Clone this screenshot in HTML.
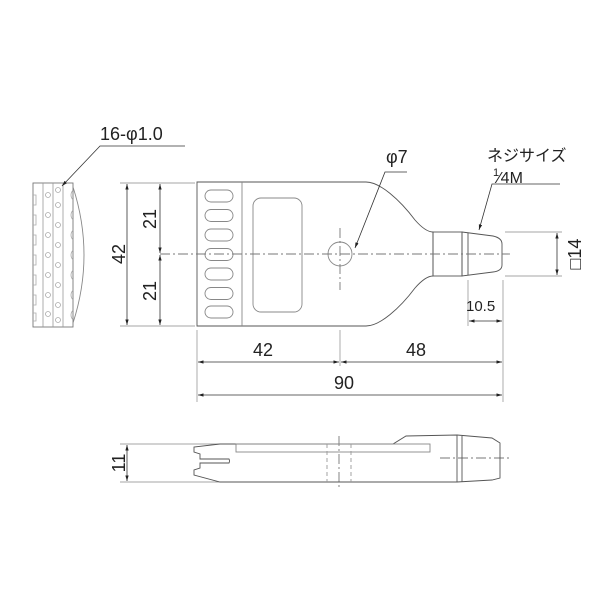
<!DOCTYPE html>
<html><head><meta charset="utf-8"><style>
html,body{margin:0;padding:0;background:#fff;}
svg{display:block;}
text{font-family:"Liberation Sans","Noto Sans CJK JP",sans-serif;fill:#222;}
</style></head><body>
<svg width="607" height="608" viewBox="0 0 607 608" xmlns="http://www.w3.org/2000/svg">
<defs>
<marker id="a" viewBox="0 0 10 10" refX="10" refY="5" markerWidth="7" markerHeight="7" orient="auto-start-reverse"><path d="M0,2 L10,5 L0,8 z" fill="#222"/></marker>
</defs>
<g fill="none" stroke="#555" stroke-width="0.9">
<!-- side view left -->
<rect x="33" y="183" width="40" height="144" stroke="#777"/>
<g stroke="#999" stroke-width="0.8">
<line x1="43" y1="183" x2="43" y2="327"/>
<line x1="53" y1="183" x2="53" y2="327"/>
<line x1="63" y1="183" x2="63" y2="327"/>
</g>
<path d="M73,187 Q95,255 73,323" stroke="#888"/>
<g stroke="#aaa" stroke-width="0.8">
<path d="M33,195 h3 v10 h-3 M33,215 h3 v10 h-3 M33,235 h3 v10 h-3 M33,255 h3 v10 h-3 M33,275 h3 v10 h-3 M33,295 h3 v10 h-3 M33,313 h3 v8 h-3"/>
<path d="M73,190 q-4,5 0,10 M73,210 q-4,5 0,10 M73,230 q-4,5 0,10 M73,250 q-4,5 0,10 M73,270 q-4,5 0,10 M73,290 q-4,5 0,10 M73,310 q-4,5 0,10"/>
<circle cx="48" cy="195" r="2.5"/><circle cx="48" cy="215" r="2.5"/><circle cx="48" cy="235" r="2.5"/><circle cx="48" cy="255" r="2.5"/><circle cx="48" cy="275" r="2.5"/><circle cx="48" cy="295" r="2.5"/><circle cx="48" cy="314" r="2.5"/>
<circle cx="58" cy="190" r="2.5"/><circle cx="58" cy="205" r="2.5"/><circle cx="58" cy="225" r="2.5"/><circle cx="58" cy="245" r="2.5"/><circle cx="58" cy="265" r="2.5"/><circle cx="58" cy="285" r="2.5"/><circle cx="58" cy="305" r="2.5"/><circle cx="58" cy="320" r="2.5"/>
</g>
<!-- top view body -->
<path d="M197,182 H366 C380,182 400,200 415,220 C422,228 428,232 433,232 V276 C428,276 422,280 415,288 C400,308 380,326 366,326 H197 Z"/>
<line x1="242" y1="182" x2="242" y2="326" stroke="#888"/>
<g stroke="#888">
<rect x="205" y="190" width="28" height="12" rx="6"/>
<rect x="205" y="209.5" width="28" height="12" rx="6"/>
<rect x="205" y="229" width="28" height="12" rx="6"/>
<rect x="205" y="248.5" width="28" height="12" rx="6"/>
<rect x="205" y="268" width="28" height="12" rx="6"/>
<rect x="205" y="287.5" width="28" height="12" rx="6"/>
<rect x="205" y="306" width="28" height="12" rx="6"/>
<rect x="253" y="198" width="49" height="114" rx="8"/>
<circle cx="340" cy="254" r="12"/>
</g>
<rect x="433" y="232" width="29" height="44"/>
<path d="M462,232 L493,236 Q502,238 502,244 V265 Q502,271 493,272 L462,276 Z"/>
<line x1="468" y1="233" x2="468" y2="275"/>
<!-- centerlines -->
<g stroke="#777" stroke-dasharray="10,3,2,3">
<line x1="160" y1="254" x2="510" y2="254"/>
<line x1="340" y1="228" x2="340" y2="290"/>
<line x1="440" y1="458" x2="510" y2="458"/>
<line x1="339" y1="436" x2="339" y2="487"/>
</g>
<!-- extension lines -->
<g stroke="#888" stroke-width="0.7">
<line x1="120" y1="183" x2="195" y2="183"/>
<line x1="120" y1="326" x2="195" y2="326"/>
<line x1="197" y1="330" x2="197" y2="402"/>
<line x1="340" y1="330" x2="340" y2="366"/>
<line x1="503" y1="280" x2="503" y2="402"/>
<line x1="468" y1="280" x2="468" y2="326"/>
<line x1="505" y1="232" x2="562" y2="232"/>
<line x1="505" y1="276" x2="562" y2="276"/>
<line x1="120" y1="444" x2="220" y2="444"/>
<line x1="120" y1="482" x2="220" y2="482"/>
</g>
<!-- dimension lines -->
<g stroke="#333" stroke-width="0.8">
<line x1="127" y1="184" x2="127" y2="325" marker-start="url(#a)" marker-end="url(#a)"/>
<line x1="160" y1="184" x2="160" y2="253" marker-start="url(#a)" marker-end="url(#a)"/>
<line x1="160" y1="255" x2="160" y2="325" marker-start="url(#a)" marker-end="url(#a)"/>
<line x1="198" y1="362" x2="339" y2="362" marker-start="url(#a)" marker-end="url(#a)"/>
<line x1="341" y1="362" x2="502" y2="362" marker-start="url(#a)" marker-end="url(#a)"/>
<line x1="198" y1="395" x2="502" y2="395" marker-start="url(#a)" marker-end="url(#a)"/>
<line x1="469" y1="321" x2="502" y2="321" marker-start="url(#a)" marker-end="url(#a)"/>
<line x1="557" y1="233" x2="557" y2="275" marker-start="url(#a)" marker-end="url(#a)"/>
<line x1="127" y1="445" x2="127" y2="481" marker-start="url(#a)" marker-end="url(#a)"/>
<!-- leaders -->
<polyline points="185,146 100,146 62,186" marker-end="url(#a)"/>
<polyline points="407,172 385,172 355,248" marker-end="url(#a)"/>
<polyline points="560,184 492,184 479,230" marker-end="url(#a)"/>
</g>
<!-- bottom view -->
<path d="M220,444 H393 L406,436 L457,435 V482 H220 L194,475 V470 L200,468 V463 H229 Q230,461 229,459 H200 V454 L194,452 V447 Z"/>
<rect x="236" y="444" width="194" height="8" stroke="#888"/>
<path d="M457,435 L492,438 L500,443 V478 L492,480 L457,482" />
<line x1="462" y1="436" x2="462" y2="482"/>
<g stroke="#999" stroke-dasharray="4,3">
<line x1="327" y1="444" x2="327" y2="482"/>
<line x1="351" y1="444" x2="351" y2="482"/>
</g>
</g>
<!-- texts -->
<g font-size="18">
<text x="100" y="140">16-φ1.0</text>
<text x="386" y="163">φ7</text>
<text x="487" y="161" font-size="16">ネジサイズ</text>
<text x="493" y="176" font-size="11">1</text>
<text x="498" y="183" font-size="16">⁄4M</text>
<text x="253" y="356">42</text>
<text x="406" y="356">48</text>
<text x="334" y="389">90</text>
<text x="466" y="311" font-size="15">10.5</text>
<text transform="translate(125,254) rotate(-90)" text-anchor="middle">42</text>
<text transform="translate(156,219) rotate(-90)" text-anchor="middle">21</text>
<text transform="translate(156,291) rotate(-90)" text-anchor="middle">21</text>
<text transform="translate(125,463) rotate(-90)" text-anchor="middle">11</text>
<text transform="translate(581,254) rotate(-90)" text-anchor="middle">□14</text>
</g>
</svg>
</body></html>
